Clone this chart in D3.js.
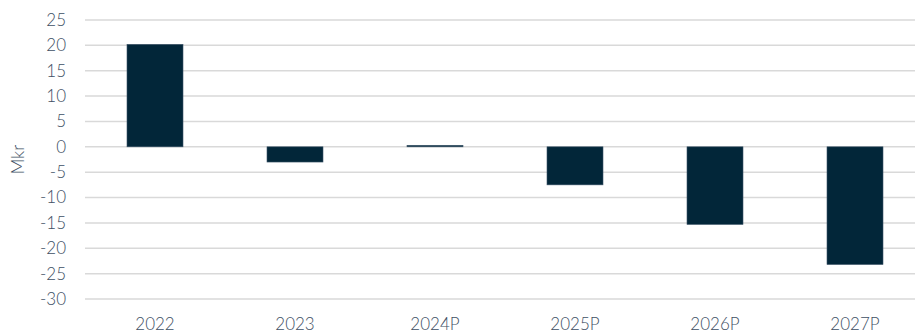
<!DOCTYPE html>
<html>
<head>
<meta charset="utf-8">
<script src="https://cdn.jsdelivr.net/npm/d3@7"></script>
<style>
  body { margin: 0; background: #fff; }
  svg text { font-family: Lato, "Open Sans", sans-serif; font-weight: 300; fill: #3e5064; }
</style>
</head>
<body>
<svg id="chart" width="917" height="333"></svg>
<script>
const categories = ['2022', '2023', '2024P', '2025P', '2026P', '2027P']
const values = [20.2, -3.0, 0.3, -7.5, -15.3, -23.2]
const yTicks = [25, 20, 15, 10, 5, 0, -5, -10, -15, -20, -25, -30]

const width = 917
const height = 333
const margin = { top: 20, right: 2, bottom: 34, left: 85 }

const svg = d3.select('#chart')

const x = d3
  .scaleBand()
  .domain(categories)
  .range([margin.left, margin.left + 840])
  .paddingInner(0.6)
  .paddingOuter(0.3)

const y = d3
  .scaleLinear()
  .domain([-30, 25])
  .range([299, margin.top])

// gridlines
svg
  .append('g')
  .selectAll('line')
  .data(yTicks)
  .join('line')
  .attr('x1', margin.left)
  .attr('x2', width - margin.right)
  .attr('y1', d => y(d))
  .attr('y2', d => y(d))
  .attr('stroke', '#d9d9d9')
  .attr('stroke-width', 1.5)

// y tick labels
svg
  .append('g')
  .selectAll('text')
  .data(yTicks)
  .join('text')
  .attr('x', 66)
  .attr('y', d => y(d))
  .attr('dy', '0.35em')
  .attr('text-anchor', 'end')
  .attr('font-size', 17)
  .text(d => d)

// bars
svg
  .append('g')
  .selectAll('rect')
  .data(values)
  .join('rect')
  .attr('x', (d, i) => x(categories[i]))
  .attr('width', x.bandwidth())
  .attr('y', d => y(Math.max(0, d)))
  .attr('height', d => Math.abs(y(d) - y(0)))
  .attr('fill', '#022639')
  .attr('stroke', '#3c5468')
  .attr('stroke-width', 0.6)

// x labels
svg
  .append('g')
  .selectAll('text')
  .data(categories)
  .join('text')
  .attr('x', d => x(d) + x.bandwidth() / 2)
  .attr('y', 330)
  .attr('text-anchor', 'middle')
  .attr('font-size', 17)
  .text(d => d)

// y axis title
svg
  .append('text')
  .attr('transform', `translate(24,${y(-2.5)}) rotate(-90)`)
  .attr('text-anchor', 'middle')
  .attr('font-size', 17)
  .text('Mkr')
</script>
</body>
</html>
